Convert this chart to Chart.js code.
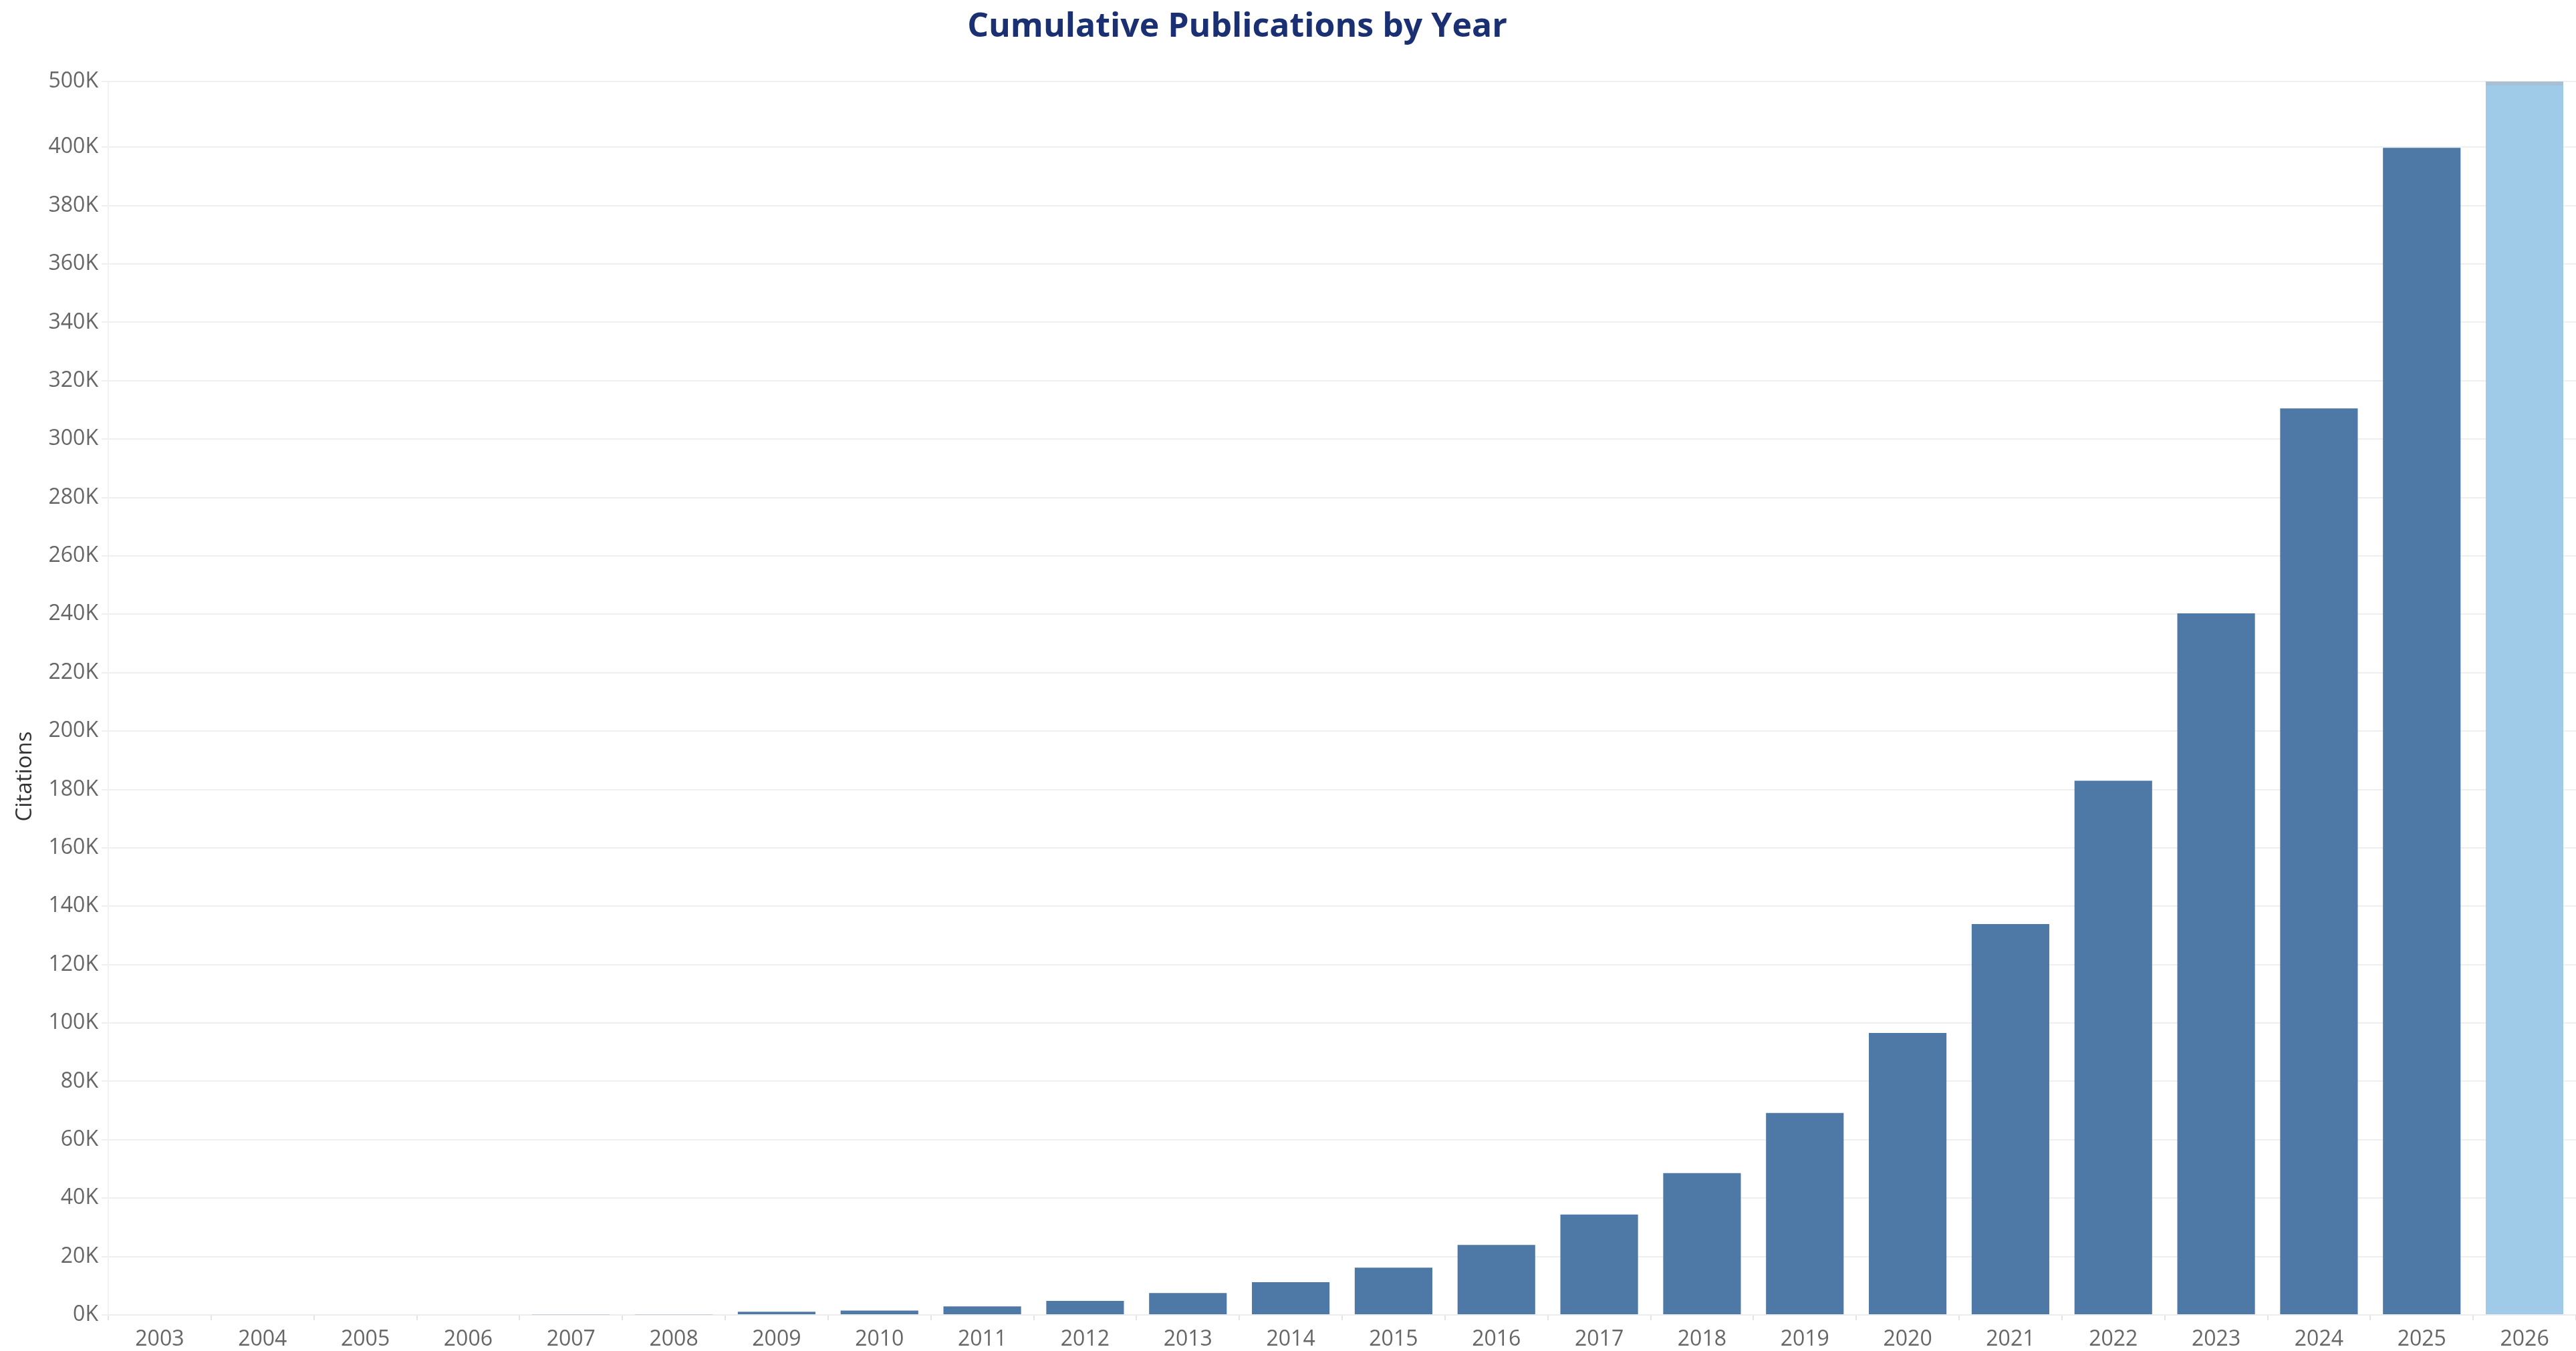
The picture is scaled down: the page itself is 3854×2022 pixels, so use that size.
<!DOCTYPE html>
<html>
<head>
<meta charset="utf-8">
<script src="https://cdn.jsdelivr.net/npm/chart.js@4.4.1/dist/chart.umd.min.js"></script>
<style>
  html, body { margin:0; padding:0; background:#fff; overflow:hidden; }
  #wrap { width:3854px; height:2022px; position:relative; }
  #title {
    position:absolute; left:0; top:6px; width:3702px; margin:0;
    text-align:center; font:bold 50px/60px "Open Sans", sans-serif; color:#1a3073;
  }
</style>
</head>
<body>
<div id="wrap">
  <h1 id="title">Cumulative Publications by Year</h1>
  <canvas id="chart"></canvas>
</div>
<script>
/* ---- data ---- */
const years = ['2003','2004','2005','2006','2007','2008','2009','2010','2011','2012','2013','2014',
               '2015','2016','2017','2018','2019','2020','2021','2022','2023','2024','2025','2026'];
const citations = [0, 0, 0, 0, 200, 200, 1100, 1500, 2900, 4800, 7500, 11200,
                   16200, 24000, 34400, 48600, 69200, 96600, 133900, 183000, 240300, 310500, 399800, 500000];
const yTicks = [0,20000,40000,60000,80000,100000,120000,140000,160000,180000,200000,
                220000,240000,260000,280000,300000,320000,340000,360000,380000,400000,500000];

/* ---- broken axis: above 400K the scale is squeezed ---- */
const BREAK = 400000, SQUEEZE = 0.225;
const toAxis = v => v <= BREAK ? v : BREAK + (v - BREAK) * SQUEEZE;
const fromAxis = v => v <= BREAK ? v : BREAK + (v - BREAK) / SQUEEZE;

const barColors = years.map(y => y === '2026' ? '#a0cbe8' : '#4e79a7');
const borderCols = years.map(y => y === '2026' ? '#a8bfd4' : '#4e79a7');
const borderW = years.map(y => y === '2026' ? {top:6, left:0, right:0, bottom:0} : 0);

const axisTitle = {
  id:'axisTitle',
  afterDraw(chart){
    const c = chart.ctx;
    c.save();
    c.translate(38, 1162);
    c.rotate(-Math.PI/2);
    c.font = '33px "Open Sans"';
    c.fillStyle = '#333';
    c.textAlign = 'center';
    c.textBaseline = 'middle';
    c.fillText('Citations', 0, 0);
    c.restore();
  }
};

Chart.defaults.font.family = '"Open Sans", sans-serif';

new Chart(document.getElementById('chart'), {
  type:'bar',
  data:{
    labels: years,
    datasets:[{
      label:'Citations',
      data: citations.map(toAxis),
      backgroundColor: barColors,
      borderColor: borderCols,
      borderWidth: borderW,
      borderSkipped: false,
      categoryPercentage: 1,
      barPercentage: 0.755
    }]
  },
  options:{
    responsive:true,
    maintainAspectRatio:false,
    animation:false,
    layout:{ padding:{ top:122, left:0, right:0, bottom:0 } },
    plugins:{
      legend:{ display:false },
      tooltip:{ enabled:false },
      title:{ display:false }
    },
    scales:{
      x:{
        grid:{ drawOnChartArea:false, color:'#e4e4e4', tickLength:8, lineWidth:2 },
        border:{ color:'#ececec', width:2 },
        ticks:{ color:'#666', font:{ size:32 }, padding:10, maxRotation:0, autoSkip:false },
        afterFit: s => { s.height = 54; }
      },
      y:{
        min:0,
        max:toAxis(500000),
        afterBuildTicks: s => { s.ticks = yTicks.map(v => ({ value: toAxis(v) })); },
        grid:{ color:'#efefef', lineWidth:2, tickLength:10 },
        border:{ color:'#f2f2f2', width:2 },
        ticks:{
          color:'#666', font:{ size:32 }, padding:5, autoSkip:false,
          callback: v => Math.round(fromAxis(v) / 1000) + 'K'
        },
        afterFit: s => { s.width = 162; }
      }
    }
  },
  plugins:[axisTitle]
});
</script>
</body>
</html>
